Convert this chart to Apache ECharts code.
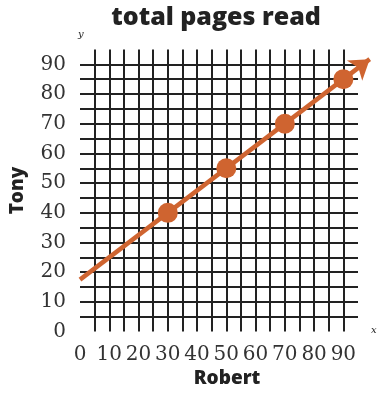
<!DOCTYPE html>
<html><head><meta charset="utf-8">
<script src="https://cdn.jsdelivr.net/npm/echarts@6/dist/echarts.min.js"></script>
<style>html,body{margin:0;padding:0;background:#fff}#c{width:377px;height:395px}</style>
</head><body><div id="c"></div>
<script>
var titleText = 'total pages read';
var xName = 'Robert';
var yName = 'Tony';
var robert = [30, 50, 70, 90];
var tony = [40, 55, 70, 85];
var lineStart = [0, 17.5];
var lineEnd = [99, 91.75];
var axisMin = 0, axisMax = 95, step = 5;

var orange = '#cf6430';
var ink = '#222';
var pts = robert.map(function (x, i) { return [x, tony[i]]; });
function lab(v) { return (v % 10 === 0 && v <= 90) ? String(v) : ''; }

var chart = echarts.init(document.getElementById('c'), null, {renderer: 'canvas'});
chart.setOption({
  backgroundColor: '#fff',
  animation: false,
  title: [
    {text: titleText, left: 211, top: 0, textAlign: 'center',
     textStyle: {fontFamily: 'Open Sans', fontWeight: 800, fontSize: 25, color: ink}},
    {text: 'y', left: 73, top: 24,
     textStyle: {fontFamily: 'DejaVu Serif', fontStyle: 'italic', fontWeight: 'normal', fontSize: 10, color: ink}},
    {text: 'x', left: 366, top: 320,
     textStyle: {fontFamily: 'DejaVu Serif', fontStyle: 'italic', fontWeight: 'normal', fontSize: 10, color: ink}}
  ],
  grid: {left: 77, right: 19, top: 49.5, bottom: 63.4, containLabel: false},
  xAxis: {
    type: 'value', min: axisMin, max: axisMax, interval: step,
    name: xName, nameLocation: 'middle', nameGap: 37,
    nameTextStyle: {fontFamily: 'Open Sans', fontWeight: 800, fontSize: 19, color: ink, padding: [0, 0, 0, 16]},
    axisLine: {show: false}, axisTick: {show: false},
    axisLabel: {formatter: lab, margin: 13, fontFamily: 'DejaVu Serif', fontSize: 20, color: '#333'},
    splitLine: {show: true, showMinLine: false, showMaxLine: false, lineStyle: {color: ink, width: 2}}
  },
  yAxis: {
    type: 'value', min: axisMin, max: axisMax, interval: step,
    name: yName, nameLocation: 'middle', nameGap: 53, nameRotate: 90,
    nameTextStyle: {fontFamily: 'Open Sans', fontWeight: 800, fontSize: 19, color: ink},
    axisLine: {show: false}, axisTick: {show: false},
    axisLabel: {formatter: lab, margin: 14, fontFamily: 'DejaVu Serif', fontSize: 20, color: '#333'},
    splitLine: {show: true, showMinLine: false, showMaxLine: false, lineStyle: {color: ink, width: 2}}
  },
  series: [
    {
      type: 'lines', coordinateSystem: 'cartesian2d', clip: false, silent: true,
      symbol: ['none', 'arrow'], symbolSize: 19,
      lineStyle: {color: orange, width: 4.5, opacity: 1},
      data: [{coords: [lineStart, lineEnd]}]
    },
    {
      type: 'scatter', symbol: 'circle', symbolSize: 20, clip: false,
      itemStyle: {color: orange, opacity: 1},
      data: pts
    }
  ]
});
</script></body></html>
